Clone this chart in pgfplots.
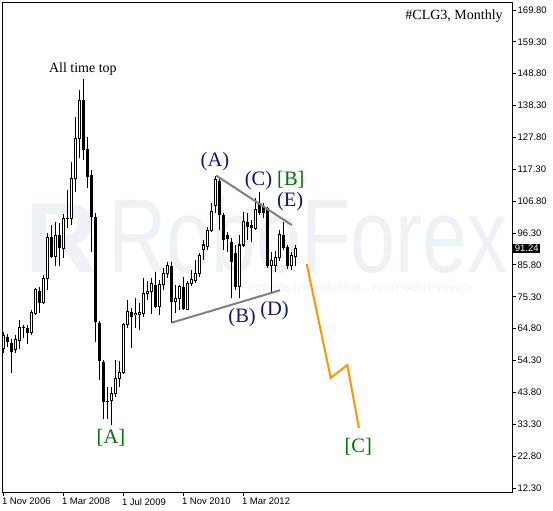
\documentclass[border=0pt]{standalone}
\usepackage{graphicx}
\usepackage{pgfplots}
\pgfplotsset{compat=1.18}
\usepackage{pgfplotstable}
\usepackage{fontspec}
\setmainfont{Liberation Serif}
\newfontfamily\tickfont{Liberation Sans}
\newfontfamily\wmfont{Liberation Sans}
\definecolor{navylab}{RGB}{20,20,120}
\definecolor{greenlab}{RGB}{0,115,0}
\definecolor{trigray}{RGB}{128,128,128}
\definecolor{fcorange}{RGB}{255,150,0}
\definecolor{wm}{RGB}{238,241,246}
\definecolor{wmtwo}{RGB}{238,240,245}

% bullish (white) candles
\pgfplotstableread{
x o h l c
0 58.10 63.79 56.68 62.38
3 57.77 62.71 56.78 61.29
4 61.06 67.65 57.99 65.25
7 63.47 70.94 62.71 70.06
8 69.86 78.10 69.30 77.54
10 73.36 82.47 72.93 81.39
11 81.39 96.32 77.54 94.90
13 88.51 99.94 85.45 95.33
15 91.27 102.58 88.08 100.93
17 101.16 119.81 98.96 114.35
18 114.35 134.64 109.92 127.52
19 127.52 143.43 120.93 140.13
27 41.07 45.68 33.07 43.49
28 43.49 54.47 42.39 48.45
29 48.45 54.20 45.50 50.30
30 50.30 66.70 49.90 66.01
31 66.01 74.25 65.00 70.39
33 69.30 74.90 65.00 69.80
34 69.30 73.40 64.40 70.06
35 69.86 81.36 68.74 76.45
36 76.45 80.60 74.40 77.20
37 76.98 81.50 69.50 79.53
39 72.05 80.80 69.30 79.20
40 79.20 84.80 77.50 83.04
41 83.04 86.60 81.50 85.54
43 73.69 79.20 69.86 74.81
44 74.81 79.20 70.90 78.63
46 71.18 80.50 70.90 79.53
47 79.53 84.10 78.80 81.07
48 80.80 87.50 80.00 83.04
49 83.04 89.70 81.80 89.00
50 91.04 94.00 87.50 92.36
51 91.80 98.40 90.70 97.30
52 97.30 106.10 96.60 103.50
53 105.50 115.20 102.80 113.78
59 78.63 95.66 74.81 92.36
60 92.36 103.34 91.80 100.04
63 97.87 107.80 97.30 103.90
67 85.60 90.00 76.90 87.20
68 85.60 90.50 83.50 88.20
69 88.20 97.40 87.00 95.90
72 85.45 90.00 84.00 88.75
73 88.50 92.50 85.60 91.24
}\whitedata

% bearish (black) candles
\pgfplotstableread{
x o h l c
1 62.15 63.04 58.86 60.50
2 60.17 61.29 50.29 57.21
5 65.45 66.00 61.62 64.92
6 64.92 66.00 59.74 63.27
9 77.31 78.43 69.86 73.36
12 94.90 98.96 87.98 88.51
14 95.66 99.70 85.45 91.37
16 101.16 110.48 97.87 100.93
20 140.13 146.95 120.37 123.66
21 123.89 128.05 111.04 114.87
22 115.50 117.07 90.16 101.69
23 101.69 102.80 60.50 67.10
24 66.76 67.30 47.90 54.24
25 53.91 54.47 34.94 40.50
26 41.10 45.60 35.00 40.60
32 70.39 71.61 58.33 68.74
38 79.20 83.40 71.60 72.05
42 85.54 86.87 66.77 73.69
45 78.63 81.93 70.95 71.18
54 113.45 114.87 97.30 102.25
55 102.25 102.90 90.70 94.00
56 95.66 96.75 90.00 94.34
57 93.46 94.56 75.00 86.87
58 89.63 92.36 77.54 78.63
61 100.04 102.80 94.00 98.40
62 98.96 100.60 93.50 97.87
64 106.10 109.90 102.25 102.80
65 104.98 106.10 101.16 102.80
66 104.46 105.00 84.70 85.60
70 95.66 100.04 90.70 91.27
71 91.60 92.36 84.40 85.45
}\blackdata

\begin{document}
\begin{tikzpicture}
\begin{axis}[
  scale only axis, width=510pt, height=490pt,
  xmin=-0.325, xmax=127.175, ymin=10.98, ymax=172.42,
  clip=false,
  axis line style={black, line width=0.9pt},
  xtick={0,15,30,45,60},
  xticklabels={1 Nov 2006,1 Mar 2008,1 Jul 2009,1 Nov 2010,1 Mar 2012},
  ytick={12.3,22.8,33.3,43.8,54.3,64.8,75.3,85.8,96.3,106.8,117.3,127.8,138.3,148.8,159.3,169.8},
  xtick pos=bottom, ytick pos=right,
  tick align=outside, major tick length=4pt,
  tick style={black, line width=0.9pt},
  xticklabel style={font=\tickfont\fontsize{9.5}{10}\selectfont, anchor=north west, inner sep=0pt, xshift=-1.5pt, yshift=-2pt},
  yticklabel style={font=\tickfont\fontsize{9.5}{10}\selectfont, anchor=west, inner sep=0pt, xshift=1.5pt,
    /pgf/number format/.cd, fixed, fixed zerofill, precision=2, assume math mode=true},
  error bars/error mark=none,
  candle/.style={draw=none, mark=none, forget plot, error bars/.cd, y dir=plus, y explicit},
]
% watermark
\node[wm, font=\wmfont\bfseries\fontsize{100}{100}\selectfont, anchor=base west, inner sep=0pt] at (axis cs:5.4,83.46) {R};
\node[wm, font=\wmfont\fontsize{105}{105}\selectfont, anchor=base west, inner sep=0pt] at (axis cs:26.2,83.46) {\scalebox{0.77}[1]{RoboForex}};
\node[wmtwo, font=\wmfont\fontsize{10}{10}\selectfont, anchor=base west, inner sep=0pt] at (axis cs:61.2,77.2) {ИСПОЛЬЗУЙ РОБОТОВ – ПОЛУЧАЙ ПРИБЫЛЬ};

% wicks
\addplot[candle, error bar style={draw=black, line width=1pt}]
  table[x=x, y=l, y error expr=\thisrow{h}-\thisrow{l}] {\whitedata};
\addplot[candle, error bar style={draw=black, line width=1pt}]
  table[x=x, y=l, y error expr=\thisrow{h}-\thisrow{l}] {\blackdata};
% black bodies
\addplot[candle, error bar style={draw=black, line width=3pt}]
  table[x=x, y=c, y error expr=\thisrow{o}-\thisrow{c}] {\blackdata};
% white bodies: outline then interior
\addplot[candle, error bar style={draw=black, line width=3pt}]
  table[x=x, y expr=\thisrow{o}-0.165, y error expr=\thisrow{c}-\thisrow{o}+0.33] {\whitedata};
\addplot[candle, error bar style={draw=white, line width=1pt}]
  table[x=x, y expr=\thisrow{o}+0.165, y error expr=\thisrow{c}-\thisrow{o}-0.33] {\whitedata};

% triangle lines
\addplot[trigray, line width=2pt, mark=none] coordinates {(53.2,115.26) (72.1,98.95)};
\addplot[trigray, line width=2pt, mark=none] coordinates {(42.1,66.77) (69.2,77.44)};
% forecast
\addplot[fcorange, line width=2pt, mark=none] coordinates {(75.85,86.1) (81.85,48.55) (86.0,52.83) (88.9,32.07)};

% labels
\node[font=\fontsize{14}{16}\selectfont] at (axis cs:19.9,150.35) {All time top};
\node[greenlab, font=\fontsize{20.5}{24}\selectfont] at (axis cs:26.9,28.74) {[A]};
\node[navylab, font=\fontsize{20.5}{24}\selectfont] at (axis cs:52.9,119.88) {(A)};
\node[navylab, font=\fontsize{20.5}{24}\selectfont] at (axis cs:59.7,68.3) {(B)};
\node[navylab, font=\fontsize{20.5}{24}\selectfont] at (axis cs:63.8,113.6) {(C)};
\node[greenlab, font=\fontsize{20.5}{24}\selectfont] at (axis cs:71.9,113.95) {[B]};
\node[navylab, font=\fontsize{20.5}{24}\selectfont] at (axis cs:67.8,70.6) {(D)};
\node[navylab, font=\fontsize{20.5}{24}\selectfont] at (axis cs:71.7,106.7) {(E)};
\node[greenlab, font=\fontsize{20.5}{24}\selectfont] at (axis cs:88.75,26.0) {[C]};
\node[font=\fontsize{14}{16}\selectfont, anchor=east, inner sep=0pt] at (axis cs:124.9,167.64) {\#CLG3, Monthly};

% current price
\node[fill=black, text=white, font=\tickfont\fontsize{9.5}{10}\selectfont, anchor=west, inner sep=1.5pt] at (axis cs:127.175,91.24) [xshift=1.2pt] {91.24};
\end{axis}
\pgfresetboundingbox
\path ([shift={(-2pt,-18pt)}]current axis.south west) rectangle ([shift={(41pt,2pt)}]current axis.north east);
\end{tikzpicture}
\end{document}
